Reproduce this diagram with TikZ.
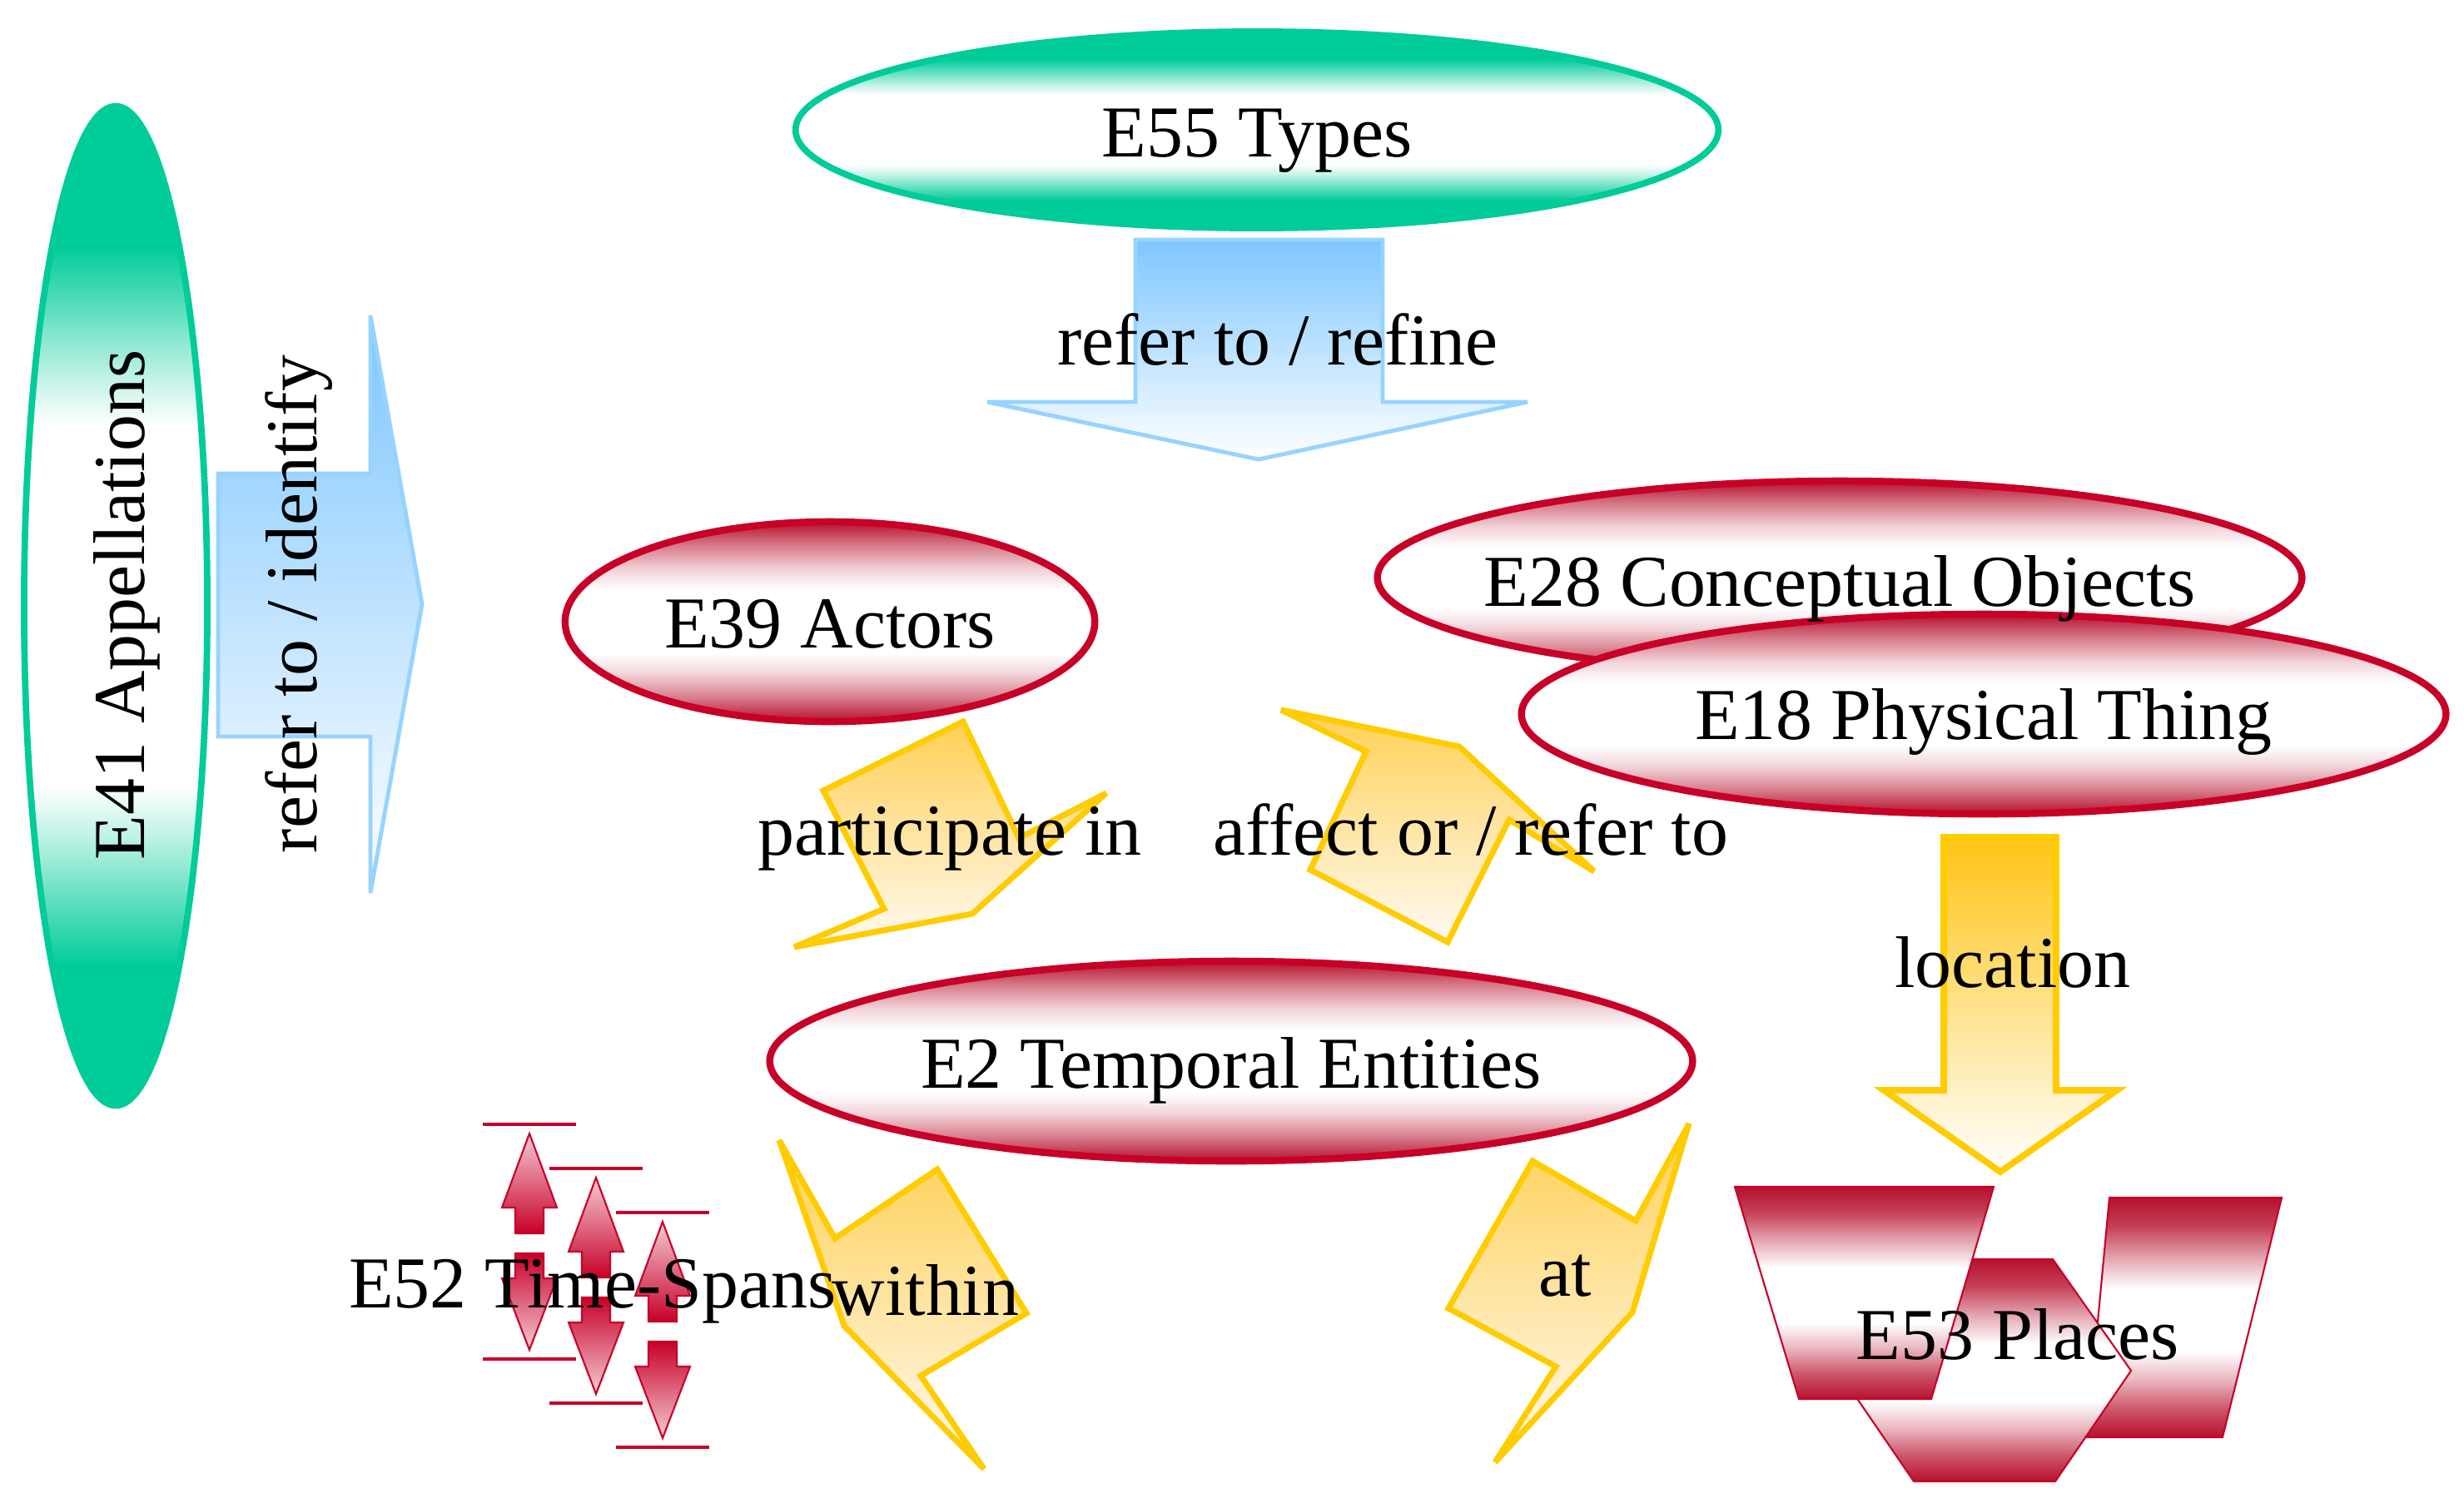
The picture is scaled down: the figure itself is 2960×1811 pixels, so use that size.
\documentclass[tikz,border=0pt]{standalone}
\usepackage{fontspec}
\setmainfont{Liberation Serif}
\usetikzlibrary{shapes.geometric}
\definecolor{tealc}{RGB}{0,204,153}
\definecolor{redc}{RGB}{200,0,40}
\definecolor{redf}{RGB}{182,16,44}
\definecolor{bluef}{RGB}{125,198,255}
\definecolor{bluel}{RGB}{150,212,255}
\definecolor{goldl}{RGB}{255,204,0}
\definecolor{goldf}{RGB}{255,208,85}
\definecolor{creamf}{RGB}{255,250,242}
\definecolor{locf}{RGB}{255,196,20}
\pgfdeclareverticalshading{redband}{100bp}{color(0bp)=(redf); color(25bp)=(redf); color(31bp)=(redf!55); color(37bp)=(redf!18); color(42bp)=(white); color(58bp)=(white); color(63bp)=(redf!18); color(69bp)=(redf!55); color(75bp)=(redf); color(100bp)=(redf)}
\pgfdeclareverticalshading{placeband}{100bp}{color(0bp)=(redf); color(25bp)=(redf); color(31bp)=(redf!70); color(37bp)=(redf!30); color(43bp)=(white); color(56bp)=(white); color(62bp)=(redf!35); color(69bp)=(redf!80); color(75bp)=(redf); color(100bp)=(redf)}
\pgfdeclareverticalshading{tealband}{100bp}{color(0bp)=(tealc); color(25bp)=(tealc); color(32bp)=(tealc); color(35.5bp)=(tealc!60); color(38.5bp)=(tealc!25); color(41bp)=(white); color(59bp)=(white); color(61.5bp)=(tealc!25); color(64.5bp)=(tealc!60); color(68bp)=(tealc); color(75bp)=(tealc); color(100bp)=(tealc)}
\tikzset{
  ellteal/.style={ellipse, inner sep=0pt, outer sep=0pt, draw=tealc, line width=2.2pt, shading=tealband},
  ellred/.style={ellipse, inner sep=0pt, outer sep=0pt, draw=redc, line width=2.4pt, shading=redband},
  bolt/.style={draw=goldl, line width=2pt, top color=goldf, bottom color=creamf, line join=miter, miter limit=6},
  bluearr/.style={draw=bluel, line width=1.4pt, top color=bluef, bottom color=white, line join=miter, miter limit=3},
  locarr/.style={draw=goldl, line width=2.2pt, top color=locf, bottom color=white, line join=miter, miter limit=4},
  placeshape/.style={draw=redc, line width=0.6pt, shading=placeband},
  tsup/.style={draw=redc, line width=0.6pt, top color=redc!20, middle color=white, bottom color=redc},
  tsdown/.style={draw=redc, line width=0.6pt, top color=redc, middle color=white, bottom color=redc!20},
  tsline/.style={draw=redc, line width=0.9pt},
  lbl/.style={font=\fontsize{25}{30}\selectfont, inner sep=0pt, outer sep=0pt, anchor=base, text=black}
}
\begin{document}
\begin{tikzpicture}[x=0.01cm, y=-0.01cm]
\useasboundingbox (0,0) rectangle (2960,1811);
\fill[white] (0,0) rectangle (2960,1811);

% E41 Appellations and its arrow
\node[ellteal, minimum width=2.2cm, minimum height=12cm] (e41) at (139,728) {};
\path[bluearr] (262,569) -- (445,569) -- (445,379) -- (507,726) -- (445,1073) -- (445,885) -- (262,885) -- cycle;

% E55 Types and its arrow
\node[ellteal, minimum width=11.08cm, minimum height=2.36cm] (e55) at (1510,156) {};
\path[bluearr] (1364,288) -- (1661,288) -- (1661,483) -- (1835,483) -- (1512,552) -- (1186,483) -- (1364,483) -- cycle;

% red ellipses
\node[ellred, minimum width=6.36cm, minimum height=2.4cm] (e39) at (997,747) {};
\node[ellred, minimum width=11.1cm, minimum height=2.32cm] (e28) at (2210,694) {};
\node[ellred, minimum width=11.1cm, minimum height=2.4cm] (e18) at (2383,858) {};

% lightning: participate in
\path[bolt] (1157,867) -- (1224,1007) -- (1329,953) -- (1168,1098) -- (954,1138) -- (1062,1092) -- (989,950) -- cycle;
% lightning: affect or / refer to
\path[bolt] (1539,853) -- (1753,897) -- (1915,1047) -- (1813,985) -- (1739,1132) -- (1574,1045) -- (1641,903) -- cycle;

% location arrow
\path[locarr] (2335,1006) -- (2470,1006) -- (2470,1310) -- (2543,1310) -- (2403,1408) -- (2263,1310) -- (2335,1310) -- cycle;

% E2 Temporal Entities
\node[ellred, minimum width=11.08cm, minimum height=2.4cm] (e2) at (1479,1275) {};

% lightning: within
\path[bolt] (936,1370) -- (1003,1488) -- (1126,1405) -- (1233,1578) -- (1106,1653) -- (1182,1765) -- (1014,1593) -- cycle;
% lightning: at
\path[bolt] (1841,1395) -- (1965,1467) -- (2029,1350) -- (1961,1577) -- (1796,1757) -- (1869,1642) -- (1740,1572) -- cycle;

% E52 time-span icon
\foreach \i in {0,1,2} {
  \begin{scope}[shift={({80*\i},{53*\i})}]
    \draw[tsline] (580,1351) -- (692,1351);
    \path[tsup] (636,1362) -- (669,1451) -- (653,1451) -- (653,1482) -- (619,1482) -- (619,1451) -- (603,1451) -- cycle;
    \path[tsdown] (619,1506) -- (653,1506) -- (653,1536) -- (669,1536) -- (636,1622) -- (603,1536) -- (619,1536) -- cycle;
    \draw[tsline] (580,1633) -- (692,1633);
  \end{scope}
}

% E53 places shapes
\path[placeshape] (2534,1439) -- (2741,1439) -- (2670,1727) -- (2507,1727) -- cycle;
\path[placeshape] (2366,1513) -- (2466,1513) -- (2560,1647) -- (2469,1780) -- (2299,1780) -- (2208,1647) -- cycle;
\path[placeshape] (2084,1426) -- (2395,1426) -- (2320,1681) -- (2161,1681) -- cycle;

% labels
\node[lbl] (t55) at (1510,188) {E55 Types};
\node[lbl, rotate=90] (t41) at (173,727) {E41 Appellations};
\node[lbl, rotate=90] (tid) at (380,726) {refer to / identify};
\node[lbl] (tref) at (1535,438) {refer to / refine};
\node[lbl] (t39) at (997,778) {E39 Actors};
\node[lbl] (t28) at (2210,728) {E28 Conceptual Objects};
\node[lbl] (t18) at (2383,888) {E18 Physical Thing};
\node[lbl] (tpart) at (1141,1027) {participate in};
\node[lbl] (taff) at (1767,1027) {affect or / refer to};
\node[lbl] (tloc) at (2418,1186) {location};
\node[lbl] (t2) at (1479,1307) {E2 Temporal Entities};
\node[lbl, anchor=base west] (t52) at (419,1571) {E52 Time-Spans};
\node[lbl] (twith) at (1112,1580) {within};
\node[lbl] (tat) at (1880,1557) {at};
\node[lbl] (t53) at (2424,1633) {E53 Places};
\end{tikzpicture}
\end{document}
